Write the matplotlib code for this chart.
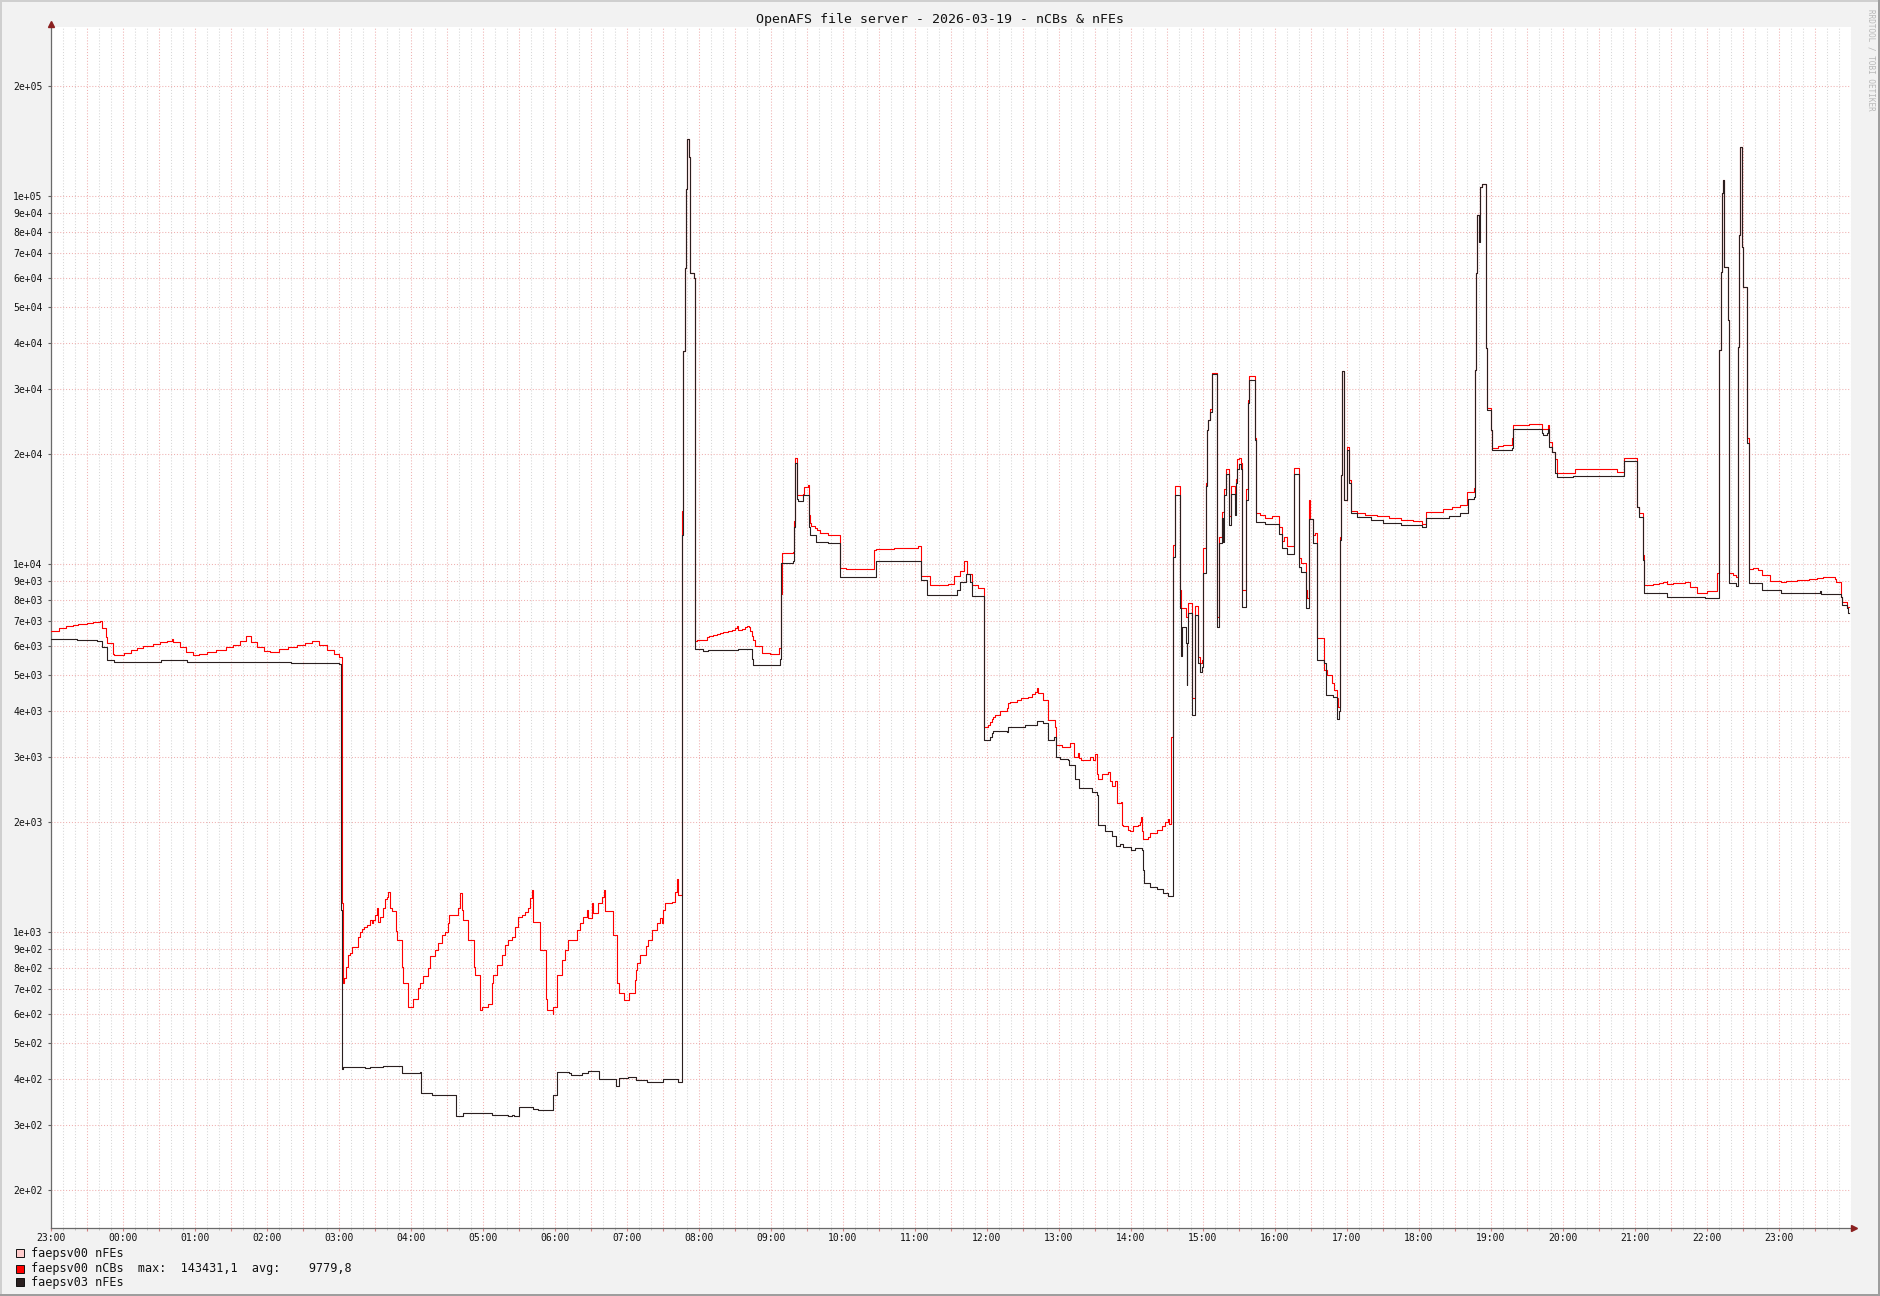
import matplotlib
matplotlib.use("Agg")
import matplotlib.pyplot as plt
from matplotlib.patches import Rectangle
from matplotlib.ticker import FixedLocator, MultipleLocator, FuncFormatter, NullFormatter

# time axis: minutes after 23:00 of the previous day, step data (rrd style)
red_t = [0, 7, 13, 19, 23, 30, 35, 41, 42.5, 46, 47, 52, 53, 61, 67, 72, 77, 85, 91, 97, 101, 102, 108, 113, 119, 124,
         130, 138, 146, 152, 158, 163, 167, 172, 178, 183, 190, 198, 205, 212, 218, 224, 230, 236, 240,
         242.5, 243.3, 244.4, 246.1, 248, 249.4, 250.8, 253.6, 256.4, 257.8, 259.1, 261.4, 263.3, 266.1, 267.5, 268.9,
         270.3, 271.6, 273, 274.4, 277.2, 278.6, 280, 281.4, 282.8, 284.1, 287.5, 288.3, 292.5, 293.9, 298, 301.6,
         306.4, 307.8, 310.5, 314.7, 316.1, 320.3, 323, 325.8, 328.6, 331.4, 332.2, 335.5, 339.7, 341.1, 342.5, 343.9,
         347.5, 352.8, 353.6, 357.8, 359.2, 364.7, 367.5, 368.9, 371.7, 375.8, 378.6, 381.4, 384.1, 386.9, 389.7,
         392.5, 395.3, 398, 399.4, 400.8, 402.2, 407.2, 407.8, 412.8, 413.3, 418.3, 418.9, 421.6, 426.4, 428.6, 431.4,
         435.5, 438.3, 441.1, 443.9, 446.6, 448, 450.8, 452.2, 455, 456.4, 459.1, 461.4, 462.2, 468.3, 472.2, 473.3,
         477.8, 481.9, 486.9, 487.8, 488.9, 491.1, 496.1, 498, 500.8, 505, 507.8, 509.1, 510.5, 511.9, 517.5, 520.3,
         521.7, 523,
         526.4, 527.2, 528.3, 529.4, 530.5, 531.7, 532.8, 536.1, 537.2, 538.3, 547.2, 548.9, 552.2, 555, 557.8, 560.5,
         564.7, 567.5, 570.3, 571.7, 573, 575.8, 578.6, 580.5, 582.2, 582.8, 584.2, 585.5, 586.9, 592.5, 599.4, 607.2,
         608.3, 609.2, 618.9, 619.4, 620.5, 621.7, 622.2, 627.2, 627.8, 631.4, 632.2, 632.8, 633.3, 636.9, 638.3, 641,
         648, 658, 663, 686, 688, 703, 723, 725, 733, 748, 753, 758, 761, 764, 768, 773,
         777.75, 781.4, 782.75, 784.1, 785.5, 786.9, 791.1, 796.6, 798, 799.4, 805.5, 808.3, 814.7, 817.5, 820.25, 821.6,
         823, 827.2, 831.4, 836.9, 837.75, 842.5, 849.4, 852.75, 856.4, 856.9, 858.3, 866.1, 868.3, 870.25, 872.2, 873,
         875.8, 881.4, 882.75, 884.1, 886.9, 888.3, 891.6, 892.5, 893.9, 898, 899.4, 902.2, 906.4, 907.75, 908.3, 909.1,
         910, 914.7, 916.1, 921.6, 925.8, 928.6, 931.4, 932.2, 933.3,
         935.5, 936.9, 941.1, 941.6, 946.1, 948, 950.8, 953.6, 956.3, 957.7, 959.1, 960.5, 962.5, 963.3, 964.1, 966,
         967.5, 968, 972.2, 973.8, 975.8, 978, 979.1, 982.2, 983.6, 987, 987.7, 988.8, 990.5, 992, 992.5, 993, 996.1,
         998, 998.9, 1003.6, 1004.4, 1008, 1011.9, 1018, 1023.9, 1025.8, 1027.7, 1030, 1036.1, 1040.5, 1041.6, 1045.8,
         1046.6, 1048.9, 1049.5, 1051.6, 1053.5, 1055.5, 1061.4, 1064, 1067.5, 1069.5, 1071.6, 1072.5, 1074.4, 1075.5,
         1076.4, 1077.2, 1077.7, 1080.5, 1082.2, 1083.3, 1088.3,
         1095, 1105, 1115, 1125, 1135, 1143, 1146, 1160, 1168,
         1174.4, 1180.5, 1186.1, 1186.9, 1187.7, 1188.8, 1191.1, 1192.5, 1195.8, 1196.6, 1200.2, 1201.3, 1206, 1210,
         1218, 1218.8, 1232, 1242.5, 1248, 1248.8, 1250.8, 1253.6, 1254.9, 1270.2, 1280, 1305, 1311.1, 1321.6, 1323.6,
         1326.6, 1327.7, 1335, 1340, 1344, 1346.6, 1347.2, 1352, 1358, 1362, 1366.1, 1371.6, 1380, 1388.3, 1390.5,
         1391.6, 1392.8, 1393.9, 1394.4, 1398, 1398.9, 1402, 1404.4, 1406.4, 1407.2, 1408, 1409.1, 1410.5, 1413.9,
         1415.5, 1418.9, 1423, 1425.8, 1432.7, 1441.6, 1446, 1450, 1455, 1465, 1471.6, 1477.2, 1486.9, 1488, 1491.9,
         1492.5, 1496.6, 1498.9]
red_v = [6590, 6700, 6800, 6840, 6880, 6940, 6990, 7030, 6730, 6360, 6100, 5710, 5670, 5750, 5850, 5910, 6000, 6070,
         6160, 6200, 6250, 6160, 5970, 5790, 5670, 5700,
         5760, 5850, 5950, 6050, 6200, 6370, 6150, 5950, 5800, 5780, 5880, 5960, 6050, 6100, 6200, 6050, 5850, 5700, 5610,
         1200, 727, 750, 806, 870, 877, 910, 910, 970, 1004, 1020, 1036, 1047, 1080, 1058, 1080,
         1114, 1162, 1069, 1103, 1162, 1229, 1250, 1290, 1162, 1140, 1010, 953, 806, 727, 628, 660,
         704, 727, 760, 800, 860, 895, 933, 983, 1004, 1058, 1114, 1114, 1162, 1280, 1150, 1080,
         953, 806, 766, 615, 628, 640, 727, 766, 815, 870, 924, 953, 973, 1036, 1103,
         1114, 1138, 1162, 1240, 1300, 1069, 1069, 895, 660, 615, 600, 628, 766, 841, 895, 953,
         953, 1015, 1058, 1103, 1150, 1091, 1200, 1126, 1126, 1199, 1250, 1300, 1140, 983, 727, 683,
         655, 683, 740, 790, 824, 868, 920, 953, 1015, 1058, 1091, 1058, 1150, 1200, 1211, 1290,
         1400, 1260,
         14000, 38000, 64000, 105000, 143400, 128000, 62000, 60000, 6200, 6225, 6330, 6370, 6440, 6470, 6520, 6560,
         6600, 6620, 6720, 6780, 6620, 6670, 6750, 6810, 6750, 6600, 6400, 6225, 5990, 5740, 5700, 5940,
         8300, 10700, 10830, 13100, 19450, 19100, 15440, 15550, 16190, 16400, 13640, 12950, 12740, 12560, 12360, 12200,
         12000, 9780, 9700, 10940, 11000, 11100, 11190, 9280, 8800, 8850, 9280, 9560, 10230, 9420, 8800, 8600,
         3620, 3650, 3720, 3800, 3850, 3890, 4000, 4060, 4200, 4230, 4290, 4330, 4370, 4440, 4490, 4610,
         4460, 4280, 3770, 3620, 3230, 3195, 3270, 3000, 3080, 2970, 2940, 3000, 2940, 3050, 2700, 2610,
         2700, 2730, 2570, 2490, 2570, 2240, 2260, 1960, 1940, 1900, 1880, 1950, 1960, 2000, 2060, 1880,
         1790, 1820, 1860, 1900, 1940, 1990, 2030, 1970, 3400,
         11300, 16300, 8510, 7590, 7200, 7830, 4320, 7700, 5600, 5380, 5500, 11050, 16600, 23200, 24700, 26500,
         29700, 33000, 7200, 11900, 13900, 16000, 18100, 13500, 16300, 15000, 17000, 19300, 19500, 18800, 17700, 8500,
         16000, 27900, 32500, 22000, 13750, 13600, 13400, 13500, 12600, 11600, 11900, 11200, 18250, 10380, 10100, 8510,
         8100, 14960, 13300, 12000, 12200, 6290, 5160, 5000, 4750, 4550, 4320, 4100, 11900, 17500,
         33600, 33600, 15000, 20800, 16900, 14000, 13800,
         13600, 13500, 13350, 13200, 13100, 12900, 13900, 14100, 14300,
         14490, 15750, 16080, 33730, 61750, 88970, 106200, 107760, 38630, 26540, 23170, 20660, 20950, 21100,
         21990, 23900, 24060, 23260, 23900, 21540, 20230, 19280, 17740, 18110, 18180, 17850, 19410, 14340, 13760,
         10600, 8785, 8840, 8915, 8970, 9030, 8840, 8880, 8915, 8970, 8695, 8375, 8440, 9450, 38220,
         62400, 101860, 110760, 64120, 46110, 9450, 9350, 9260, 38900, 78500, 136400, 73000, 56800, 22000,
         9690, 9750, 9650, 9340, 9000, 8950, 9000, 9030, 9080, 9120, 9170, 9210, 9120, 8970, 8165,
         7910, 7670, 7670]

blk_t = [0, 22, 39, 42.5, 46.7, 47.2, 52.8, 61.1, 91.6, 113.9, 150, 200, 230, 240,
         241.7, 242.5, 244, 262, 266, 276.6, 292.5, 307.8, 308.3, 308.6, 317.5, 337.75, 343.9, 367.5, 381.4, 384.1,
         386.4, 390.5, 402.2, 406.4, 418.9, 421.6, 432.2, 433.3, 442.5, 448, 457.2, 471.2, 473.8, 481.4, 487.8, 497.2,
         510.5, 523,
         526.4, 527.2, 528.3, 529.4, 530.5, 531.7, 532.8, 536.1, 537.2, 543.3, 548, 564.7, 573, 584.2, 585.5, 607.8,
         608.6, 618.9, 619.4, 620.5, 621.7, 622.2, 623, 626.7, 632.2, 632.8, 637.5, 641, 648, 658, 688, 725, 730, 751,
         755, 758, 763, 766, 768,
         777.75, 782.75, 784.1, 785.5, 796.6, 798, 812, 821.6, 826.6, 831.4, 836.1, 837.5, 837.75, 841.1, 848, 848.4,
         853, 853.3, 856.4, 857.2, 867.5, 872.2, 872.5, 873, 878.6, 884.1, 887.75, 891.4, 893.9, 900, 903.6, 909.1,
         910, 911.1, 916.1, 921.6, 927.2, 931.4, 934.5,
         935.5, 936.9, 941.1, 941.6, 942, 942.5, 946.1, 946.7, 947.2, 948, 950.8, 953.6, 956.3, 957.7, 959.1, 960.5,
         962.5, 963.3, 964.1, 966, 967.5, 968, 972.2, 973.8, 975.8, 977, 978, 979.1, 982.2, 983.6, 986.9, 987.7,
         988.8, 990.5, 992, 993, 996.1, 998, 998.9, 1003.6, 1004.4, 1011.9, 1018, 1023.9, 1025.8, 1030, 1036.1, 1040.5,
         1041.6, 1045.8, 1048.9, 1051.6, 1055.5, 1061.4, 1062.7, 1068.9, 1071.6, 1072.2, 1073.5, 1074.4, 1075.5,
         1076.4, 1077.2, 1077.7, 1080.5, 1082.2, 1083.3, 1088.3,
         1100, 1110, 1125, 1143, 1146, 1165,
         1174.4, 1181.3, 1186.1, 1186.9, 1187.7, 1188.8, 1190.2, 1191.1, 1192.5, 1195.8, 1196.6, 1200.2, 1201.3, 1218,
         1218.8, 1242.5, 1243.8, 1247.2, 1248, 1248.8, 1250.8, 1253.6, 1254.9, 1269, 1311.1, 1321.6, 1323.6, 1326.6,
         1327.7, 1347.2, 1378.6, 1390.5, 1391.6, 1392.8, 1393.9, 1394.4, 1398, 1398.9, 1404.4, 1406.4, 1407.2, 1408,
         1409.1, 1410.5, 1413.9, 1415.5, 1425.8, 1441.6, 1455, 1474.5, 1475.5, 1491.9, 1492.5, 1496.6, 1497.5, 1498.9]
blk_v = [6270, 6230, 6190, 5970, 5650, 5490, 5410, 5440, 5490, 5440, 5430, 5400, 5380, 5360,
         1150, 425, 430, 428, 430, 432, 414, 418, 376, 365, 361, 317, 322, 318, 316, 318,
         316, 336, 331, 329, 361, 418, 414, 409, 414, 421, 400, 383, 402, 404, 396, 392,
         399, 391,
         12000, 38000, 64000, 105000, 143400, 128000, 62000, 60000, 5875, 5810, 5850, 5840, 5875, 5540, 5320, 5540,
         10100, 10230, 12650, 18870, 18650, 15080, 14840, 15420, 12650, 12010, 11520, 11500, 11450, 9210, 10230, 9070,
         8230, 8230, 8540, 8940, 9420, 8940, 8180,
         3330, 3400, 3480, 3530, 3500, 3620, 3660, 3760, 3710, 3330, 3400, 3200, 3000, 2960, 2935, 2850,
         2850, 2610, 2610, 2460, 2400, 2360, 2080, 1960, 1890, 1827, 1716, 1740, 1700, 1670, 1690, 1670,
         1480, 1365, 1325, 1308, 1282, 1255, 1255,
         10500, 15400, 7590, 6770, 5630, 6770, 6100, 4700, 6100, 7370, 3900, 7280, 5400, 5100, 5250, 9450,
         16300, 23200, 24700, 26000, 29700, 32800, 6770, 11450, 13340, 11500, 15400, 17600, 12800, 15500, 13600, 16600,
         18200, 18700, 18200, 7670, 15000, 27400, 31600, 21700, 13060, 12900, 12850, 12100, 11100, 10650, 17650, 9850,
         9550, 7590, 13300, 11400, 5500, 5400, 4410, 4350, 4200, 3800, 4000, 11650, 17500,
         33600, 33600, 15000, 20500, 16600, 13750, 13470,
         13200, 12950, 12800, 12600, 13400, 13500,
         13760, 15020, 15270, 33730, 61750, 88970, 75300, 106200, 107760, 38630, 26270, 23170, 20450, 20720,
         23260, 22700, 22460, 22700, 23260, 20870, 20230, 17670, 17310, 17380, 19130, 14340, 13470, 10270,
         8340, 8130, 8080, 38220, 62400, 101860, 110760, 64120, 46110, 8880, 8730, 38900, 78500, 136400,
         73000, 56800, 21300, 8880, 8510, 8380, 8340, 8440, 8310, 8165, 7750, 7590, 7360, 7360]

legend_names = ["faepsv00 nFEs", "faepsv00 nCBs  max:  143431,1  avg:    9779,8", "faepsv03 nFEs"]
legend_colors = ["#ffcccc", "#ff0000", "#2a1f1f"]
hour_labels = ["23:00", "00:00", "01:00", "02:00", "03:00", "04:00", "05:00", "06:00", "07:00", "08:00", "09:00",
               "10:00", "11:00", "12:00", "13:00", "14:00", "15:00", "16:00", "17:00", "18:00", "19:00", "20:00",
               "21:00", "22:00", "23:00"]
title = "OpenAFS file server - 2026-03-19 - nCBs & nFEs"

plt.rcParams['font.family'] = ['DejaVu Sans Mono', 'DejaVu Sans']

W, H = 1881, 1296
fig = plt.figure(figsize=(W / 100, H / 100), dpi=100, facecolor="#f2f2f2")
x0, x1, y_top, y_bot = 50.7, 1850.7, 26.7, 1228
ax = fig.add_axes([x0 / W, (H - y_bot) / H, (x1 - x0) / W, (y_bot - y_top) / H])
ax.set_facecolor("white")

ax.plot(red_t, red_v, drawstyle="steps-post", color="#ff0000", lw=0.8, zorder=3)
ax.plot(blk_t, blk_v, drawstyle="steps-post", color="#2a1f1f", lw=0.8, zorder=4)

ax.set_yscale("log")
ax.set_ylim(157.2, 289000)
ax.set_xlim(0, 1500)

# y grid / labels at 1..9 x 10^k
yt = [m * 10 ** k for k in range(2, 6) for m in range(1, 10) if 157.2 < m * 10 ** k < 289000]
ax.yaxis.set_major_locator(FixedLocator(yt))
ax.yaxis.set_minor_locator(FixedLocator([]))
ax.yaxis.set_major_formatter(FuncFormatter(lambda v, p: "%.0e" % v))
ax.xaxis.set_major_locator(MultipleLocator(30))
ax.xaxis.set_minor_locator(MultipleLocator(10))
ax.xaxis.set_major_formatter(FuncFormatter(
    lambda v, p: hour_labels[int(round(v)) // 60] if int(round(v)) % 60 == 0 and int(round(v)) // 60 < len(hour_labels) else ""))
ax.xaxis.set_minor_formatter(NullFormatter())

dots = (0, (1, 1.8))
ax.grid(True, which="major", axis="both", color="#efb0b0", lw=0.75, linestyle=dots, zorder=1)
ax.grid(True, which="minor", axis="x", color="#d6d6d6", lw=0.75, linestyle=dots, zorder=1)
ax.set_axisbelow(True)

ax.tick_params(axis="y", which="major", length=2.2, width=0.8, color="#606060", pad=3.6, labelsize=7, labelcolor="#111111")
ax.tick_params(axis="x", which="major", length=2.2, width=0.8, color="#d08080", pad=1.5, labelsize=7, labelcolor="#111111")
ax.tick_params(axis="x", which="minor", length=1.5, width=0.6, color="#b8b8b8")
for s in ("top", "right"):
    ax.spines[s].set_visible(False)
for s in ("left", "bottom"):
    ax.spines[s].set_color("#6a6a6a")
    ax.spines[s].set_linewidth(0.9)

# arrow heads
ax.plot([0], [1.0025], marker="^", ms=4.5, color="#8b2020", transform=ax.transAxes, clip_on=False, zorder=6)
ax.plot([1.002], [0], marker=">", ms=4.5, color="#8b2020", transform=ax.transAxes, clip_on=False, zorder=6)

fig.text(0.5, 1 - 20 / H, title, ha="center", va="center", fontsize=9.5, color="#111111")
fig.text(1871.5 / W, 1 - 60 / H, "RRDTOOL / TOBI OETIKER", rotation=270, ha="center", va="center",
         fontsize=5.5, color="#b8b8b8")

# legend
rows = [1253.3, 1268.5, 1282.2]
for name, col, yc in zip(legend_names, legend_colors, rows):
    fig.add_artist(Rectangle((15.7 / W, 1 - (yc + 4) / H), 8 / W, 8 / H, transform=fig.transFigure,
                             facecolor=col, edgecolor="#111111", lw=0.7))
    fig.text(31 / W, 1 - yc / H, name, ha="left", va="center", fontsize=8.45, color="#111111")

# 3d frame of the canvas
fig.add_artist(Rectangle((0, 1 - 2 / H), 1, 2 / H, transform=fig.transFigure, color="#cfcfcf", lw=0))
fig.add_artist(Rectangle((0, 0), 2 / W, 1, transform=fig.transFigure, color="#cfcfcf", lw=0))
fig.add_artist(Rectangle((1 - 2.5 / W, 0), 2.5 / W, 1, transform=fig.transFigure, color="#9e9e9e", lw=0))
fig.add_artist(Rectangle((0, 0), 1, 2.5 / H, transform=fig.transFigure, color="#9e9e9e", lw=0))

fig.savefig("out.png", dpi=100, facecolor=fig.get_facecolor())
